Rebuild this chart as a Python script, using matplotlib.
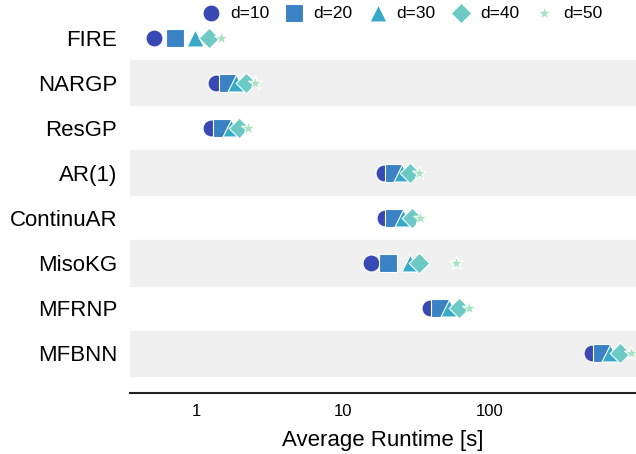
import numpy as np
import matplotlib.pyplot as plt

plt.rcParams['font.family'] = ['Liberation Sans', 'DejaVu Sans']

methods = ["FIRE", "NARGP", "ResGP", "AR(1)", "ContinuAR", "MisoKG", "MFRNP", "MFBNN"]
dims = ["d=10", "d=20", "d=30", "d=40", "d=50"]

# average runtime in seconds, one list per dimension
rt_d10 = [0.51, 1.35, 1.25, 18.8, 19.1, 15.5, 38.8, 497]
rt_d20 = [0.71, 1.63, 1.50, 22.0, 22.0, 20.3, 45.5, 580]
rt_d30 = [0.97, 1.85, 1.71, 25.0, 25.7, 28.3, 52.4, 660]
rt_d40 = [1.21, 2.17, 1.94, 28.7, 29.2, 33.0, 61.3, 776]
rt_d50 = [1.46, 2.50, 2.23, 33.0, 33.6, 59.0, 71.7, 910]
runtimes = [rt_d10, rt_d20, rt_d30, rt_d40, rt_d50]

markers = ['o', 's', '^', 'D', '*']
colors = ['#3949b3', '#3a82c4', '#38aac9', '#6ccac4', '#a9e2c1']
sizes = [150, 150, 150, 110, 110]

fig = plt.figure(figsize=(6.36, 4.54), dpi=100)
ax = fig.add_axes([0.204, 0.134, 0.796, 0.866])

y = np.arange(len(methods))
for i in range(len(methods)):
    if i % 2 == 1:
        ax.axhspan(i - 0.5, i + 0.5, color='#f0f0f0', zorder=0)

for vals, m, c, s, lab in zip(runtimes, markers, colors, sizes, dims):
    ax.scatter(vals, y, marker=m, s=s, color=c, edgecolors='white',
               linewidths=0.8, label=lab, zorder=3)

ax.set_xscale('log')
ax.set_xlim(0.35, 990)
ax.set_ylim(7.89, -0.84)
ax.set_yticks(y)
ax.set_yticklabels(methods, fontsize=16)
ax.set_xticks([1, 10, 100])
ax.set_xticklabels(['1', '10', '100'], fontsize=12)
ax.minorticks_off()
ax.tick_params(length=0)
ax.tick_params(axis='y', pad=9)
ax.tick_params(axis='x', pad=8)
ax.set_xlabel('Average Runtime [s]', fontsize=16, labelpad=8)

for side in ['top', 'right', 'left']:
    ax.spines[side].set_visible(False)
ax.spines['bottom'].set_linewidth(1.5)
ax.spines['bottom'].set_color('#222222')

ax.legend(loc='upper center', bbox_to_anchor=(0.53, 1.025), ncol=5, frameon=False,
          fontsize=12.5, handletextpad=0.1, columnspacing=0.45, markerscale=1.0)

fig.savefig('out.png', dpi=100)
